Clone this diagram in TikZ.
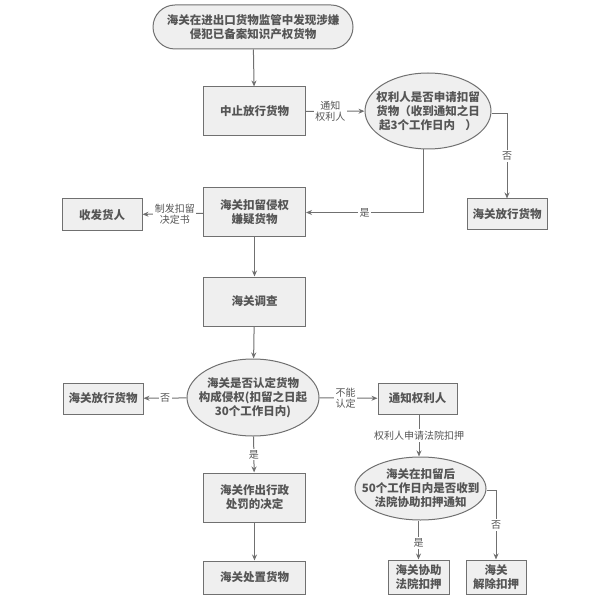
\documentclass[tikz,border=0pt]{standalone}
\usepackage{fontspec}
\setmainfont{Noto Sans CJK SC}
\usetikzlibrary{arrows.meta,shapes.geometric}
\definecolor{Box}{RGB}{239, 239, 239}
\definecolor{Edge}{RGB}{112, 112, 112}
\definecolor{Ink}{RGB}{85, 85, 85}
\tikzset{
    step box/.style = {draw = Edge, fill = Box, line width = 1pt, inner sep = 0pt,
        align = center, text = Ink, font = \fontsize{11.5}{14}\selectfont\bfseries},
    ask/.style = {draw = Edge, fill = Box, line width = 1pt, ellipse, inner sep = 0pt},
    ask text/.style = {align = center, text = Ink, inner sep = 0pt,
        font = \fontsize{11.5}{14}\selectfont\bfseries},
    flow/.style = {draw = Edge, line width = 1pt, -{Stealth[length=6pt,width=5pt]}},
    tag/.style = {fill = white, inner sep = 1.5pt, text = Ink, align = center,
        font = \fontsize{10}{11}\selectfont}
}

\begin{document}
\begin{tikzpicture}[x=1pt, y=-1pt]
    \useasboundingbox (0,0) rectangle (599,601);
    % Start
    \node[step box, rounded corners = 22pt, minimum width = 200pt, minimum height = 44pt]
        (start) at (253,27) {海关在进出口货物监管中发现涉嫌\\侵犯已备案知识产权货物};
    % Left column
    \node[step box, minimum width = 102pt, minimum height = 49pt] (stop) at (254.5,111.5) {中止放行货物};
    \node[step box, minimum width = 102pt, minimum height = 49pt] (hold) at (254.5,212.5) {海关扣留侵权\\嫌疑货物};
    \node[step box, minimum width = 102pt, minimum height = 49pt] (check) at (254.5,301.5) {海关调查};
    \node[ask, minimum width = 132pt, minimum height = 77pt] (judge) at (253,397.5) {};
    \node[ask text] at (judge) {海关是否认定货物\\构成侵权(扣留之日起\\30个工作日内)};
    \node[step box, minimum width = 102pt, minimum height = 49pt] (punish) at (254.5,497.5) {海关作出行政\\处罚的决定};
    \node[step box, minimum width = 102pt, minimum height = 33pt] (dispose) at (254.5,577.5) {海关处置货物};
    % Far left
    \node[step box, minimum width = 80pt, minimum height = 32pt] (owner) at (102,215) {收发货人};
    \node[step box, minimum width = 80pt, minimum height = 31pt] (free2) at (103,398.5) {海关放行货物};
    % Right side
    \node[ask, minimum width = 126pt, minimum height = 76pt] (apply) at (428,111) {};
    \node[ask text] at (apply) {权利人是否申请扣留\\货物（收到通知之日\\起3个工作日内\hspace{0.9em}）};
    \node[step box, minimum width = 80pt, minimum height = 31pt] (free1) at (507,214.5) {海关放行货物};
    \node[step box, minimum width = 79pt, minimum height = 31pt] (notify) at (417.5,398.5) {通知权利人};
    \node[ask, minimum width = 131pt, minimum height = 63pt] (court) at (420.5,488.5) {};
    \node[ask text] at (court) {海关在扣留后\\50个工作日内是否收到\\法院协助扣押通知};
    \node[step box, minimum width = 61pt, minimum height = 34pt] (assist) at (418.5,577) {海关协助\\法院扣押};
    \node[step box, minimum width = 60pt, minimum height = 34pt] (lift) at (496,577) {海关\\解除扣押};

    % Connectors
    \draw[flow] (start) -- (stop);
    \draw[flow] (stop) -- node[tag, xshift = -5pt] {通知\\权利人} (apply);
    \draw[flow] ([yshift = -3pt]apply.east) -| node[tag, pos = 0.75] {否} (free1);
    \draw[flow] ([xshift = -5pt]apply.south) |- node[tag, pos = 0.75] {是} (hold);
    \draw[flow] (hold) -- node[tag, xshift = 2pt] {制发扣留\\决定书} (owner);
    \draw[flow] (hold) -- (check);
    \draw[flow] (check) -- (judge);
    \draw[flow] (judge) -- node[tag] {否} (free2);
    \draw[flow] (judge) -- node[tag, xshift = -3pt] {不能\\认定} (notify);
    \draw[flow] (judge) -- node[tag] {是} (punish);
    \draw[flow] (punish) -- (dispose);
    \draw[flow] (notify.south -| court.north) ++(-1.5,0) coordinate (n0) -- node[tag] {权利人申请法院扣押} (n0 |- court.north);
    \draw[flow] (assist.north |- court.south) -- node[tag, yshift = -3pt] {是} (assist);
    \draw[flow] ([yshift = -2pt]court.east) -| node[tag, pos = 0.75] {否} (lift);
\end{tikzpicture}
\end{document}
